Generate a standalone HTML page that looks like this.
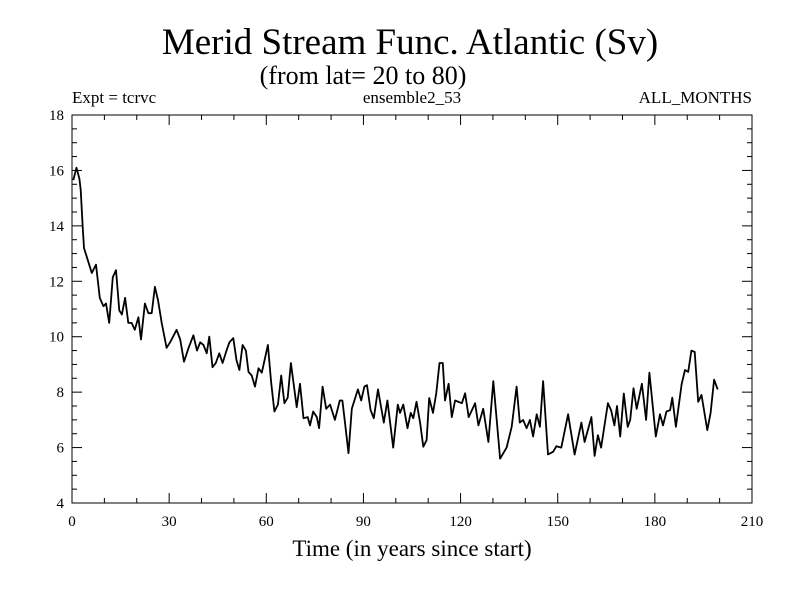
<!DOCTYPE html>
<html><head><meta charset="utf-8"><style>
body{margin:0;background:#fff}
text{font-family:"Liberation Serif",serif;fill:#000}
</style></head><body>
<svg width="800" height="600" viewBox="0 0 800 600">
<text x="410" y="54" font-size="37" text-anchor="middle">Merid Stream Func. Atlantic (Sv)</text>
<text x="363" y="84" font-size="26" text-anchor="middle">(from lat= 20 to 80)</text>
<text x="72" y="103" font-size="17">Expt = tcrvc</text>
<text x="412" y="103" font-size="17" text-anchor="middle">ensemble2_53</text>
<text x="752" y="103" font-size="17" text-anchor="end">ALL_MONTHS</text>
<g id="axes"></g>
<path id="line" fill="none" stroke="#000" stroke-width="1.8" stroke-linejoin="round"/>
<rect x="72" y="115" width="680" height="388" fill="none" stroke="#000" stroke-width="1"/>
<text x="412" y="556" font-size="23" text-anchor="middle">Time (in years since start)</text>
</svg>
<script>
const years=[0.4,1.4,2.3,2.7,3.3,3.7,4.5,6.1,7.4,8.6,9.7,10.5,11.5,12.6,13.6,14.6,15.4,16.4,17.4,18.4,19.4,20.5,21.3,22.5,23.6,24.6,25.6,26.6,27.7,29.2,30.3,32.3,33.4,34.6,36,37.5,38.6,39.6,40.6,41.6,42.4,43.4,44.4,45.5,46.5,47.7,48.6,49.8,50.8,51.7,52.7,53.7,54.5,55.5,56.5,57.6,58.6,60.5,61.5,62.5,63.6,64.6,65.6,66.6,67.6,69.4,70.4,71.5,72.8,73.5,74.5,75.6,76.3,77.4,78.5,79.7,81.2,82.7,83.5,84.4,85.4,86.4,88.3,89.3,90.3,91.1,92.2,93.2,94.5,96.3,97.4,99.2,100.6,101.3,102.3,103.6,104.6,105.4,106.4,107.5,108.5,109.5,110.3,111.5,112.5,113.5,114.5,115.2,116.3,117.3,118.3,120.4,121.4,122.5,124.5,125.5,127,128.6,130.1,132.2,134.2,135.8,137.3,138.3,139.3,140.4,141.4,142.4,143.5,144.5,145.5,147,148.6,149.6,151.1,153.2,155.2,157.3,158.3,160.4,161.4,162.4,163.4,165.5,166.5,167.5,168.3,169.3,170.4,171.6,172.4,173.4,174.4,176,177.3,178.3,180.3,181.6,182.5,183.6,184.7,185.4,186.5,188.3,189.3,190.3,191.3,192.3,193.4,194.4,196.2,197.2,198.3,199.4];
const values=[15.65,16.1,15.7,15.3,13.96,13.2,12.9,12.3,12.6,11.4,11.1,11.2,10.5,12.15,12.4,10.95,10.8,11.4,10.5,10.5,10.25,10.7,9.9,11.2,10.85,10.85,11.8,11.3,10.5,9.6,9.8,10.25,9.9,9.1,9.6,10.05,9.5,9.8,9.7,9.4,10.0,8.9,9.05,9.4,9.05,9.5,9.8,9.95,9.15,8.8,9.7,9.5,8.73,8.6,8.2,8.86,8.7,9.7,8.37,7.3,7.55,8.6,7.6,7.8,9.05,7.46,8.3,7.06,7.1,6.8,7.3,7.1,6.7,8.2,7.4,7.55,7.0,7.7,7.7,6.8,5.8,7.4,8.1,7.7,8.2,8.25,7.35,7.06,8.1,6.9,7.7,6.0,7.55,7.25,7.55,6.7,7.25,7.06,7.65,6.9,6.03,6.27,7.79,7.25,7.97,9.05,9.05,7.7,8.3,7.1,7.7,7.6,7.96,7.1,7.6,6.8,7.4,6.2,8.4,5.6,6.0,6.75,8.2,6.9,7.0,6.7,7.0,6.4,7.2,6.75,8.4,5.75,5.85,6.05,6.0,7.2,5.75,6.9,6.2,7.1,5.7,6.45,6.0,7.6,7.35,6.8,7.5,6.4,7.95,6.75,7.0,8.14,7.4,8.3,7.0,8.7,6.4,7.2,6.8,7.3,7.35,7.8,6.75,8.3,8.8,8.73,9.5,9.45,7.65,7.9,6.63,7.25,8.45,8.1];
const xTicks=[0,30,60,90,120,150,180,210];
const yTicks=[4,6,8,10,12,14,16,18];
const X0=72,X1=752,Y0=503,Y1=115;
const xs=v=>X0+(v-0)/210*(X1-X0);
const ys=v=>Y0-(v-4)/14*(Y0-Y1);
const NS="http://www.w3.org/2000/svg";
const g=document.getElementById('axes');
function ln(x1,y1,x2,y2,name){const l=document.createElementNS(NS,'line');l.setAttribute('x1',x1);l.setAttribute('y1',y1);l.setAttribute('x2',x2);l.setAttribute('y2',y2);l.setAttribute('stroke','#000');


g.appendChild(l);}
function tx(x,y,s,anchor,name){const t=document.createElementNS(NS,'text');t.setAttribute('x',x);t.setAttribute('y',y);t.setAttribute('font-size','15');t.setAttribute('text-anchor',anchor);t.textContent=s;


g.appendChild(t);}
for(let v=4;v<=18;v+=0.5){const y=ys(v);const major=v%2===0;const L=major?10:5;ln(X0,y,X0+L,y,'y-tick');ln(X1,y,X1-L,y,'y-tick');}
for(let v=0;v<=210;v+=10){const x=xs(v);const major=v%30===0;const L=major?10:5;ln(x,Y0,x,Y0-L,'x-tick');ln(x,Y1,x,Y1+L,'x-tick');}
yTicks.forEach(v=>tx(X0-8,ys(v)+5,String(v),'end','y-tick-label'));
xTicks.forEach(v=>tx(xs(v),Y0+23,String(v),'middle','x-tick-label'));
document.getElementById('line').setAttribute('d',years.map((y,i)=>(i?'L':'M')+xs(y).toFixed(1)+' '+ys(values[i]).toFixed(1)).join(' '));
</script>
</body></html>
